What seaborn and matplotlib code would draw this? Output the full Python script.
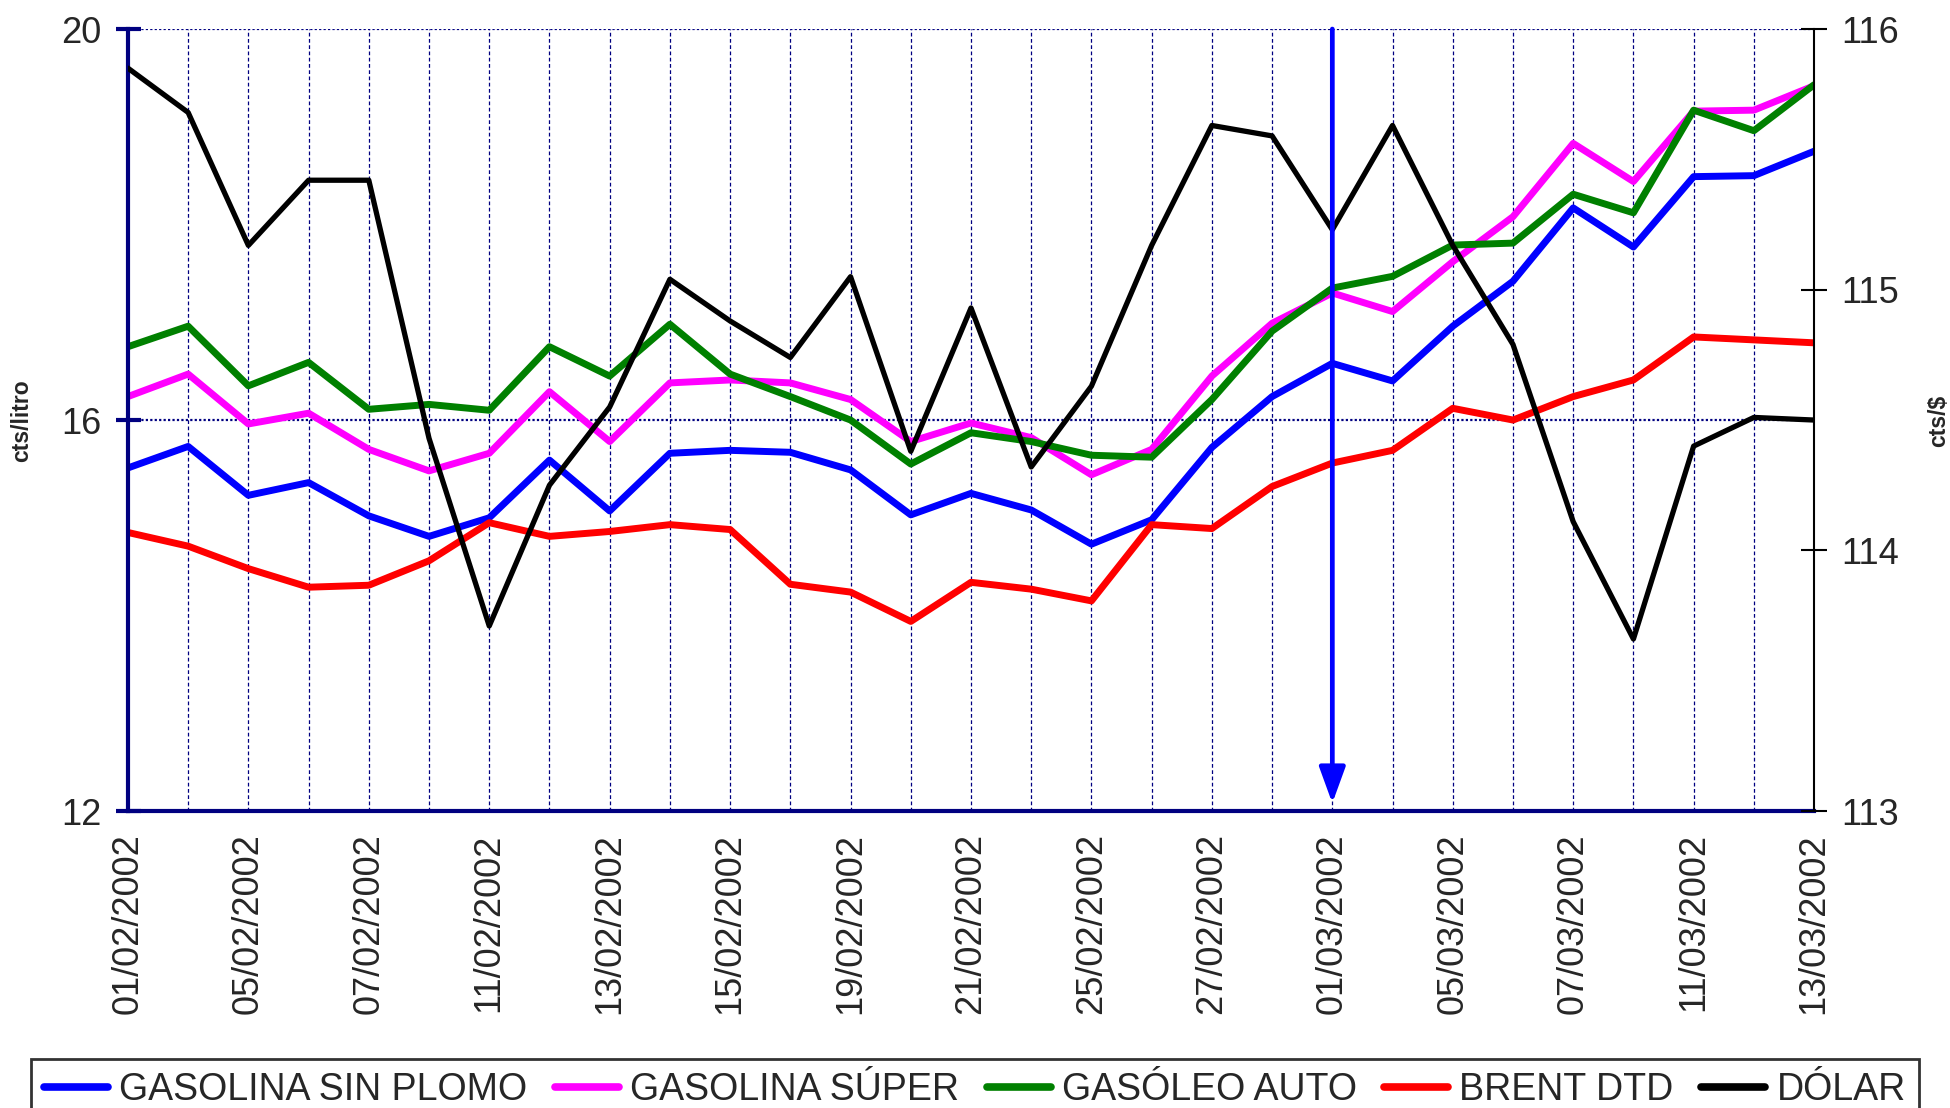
import pandas as pd
import matplotlib.pyplot as plt
import seaborn as sns
from matplotlib import font_manager

fechas = ['01/02/2002', '04/02/2002', '05/02/2002', '06/02/2002', '07/02/2002', '08/02/2002',
          '11/02/2002', '12/02/2002', '13/02/2002', '14/02/2002', '15/02/2002', '18/02/2002',
          '19/02/2002', '20/02/2002', '21/02/2002', '22/02/2002', '25/02/2002', '26/02/2002',
          '27/02/2002', '28/02/2002', '01/03/2002', '04/03/2002', '05/03/2002', '06/03/2002',
          '07/03/2002', '08/03/2002', '11/03/2002', '12/03/2002', '13/03/2002']

sin_plomo = [15.51, 15.73, 15.23, 15.36, 15.02, 14.81, 15.00, 15.59, 15.07, 15.66,
             15.69, 15.67, 15.49, 15.03, 15.25, 15.08, 14.73, 14.98, 15.72, 16.24,
             16.58, 16.40, 16.96, 17.42, 18.17, 17.77, 18.49, 18.50, 18.75]
super_ = [16.24, 16.47, 15.96, 16.07, 15.70, 15.48, 15.66, 16.29, 15.78, 16.38,
          16.41, 16.38, 16.21, 15.78, 15.97, 15.82, 15.44, 15.70, 16.45, 16.99,
          17.30, 17.11, 17.62, 18.08, 18.83, 18.44, 19.16, 19.17, 19.42]
gasoleo = [16.75, 16.96, 16.35, 16.59, 16.11, 16.16, 16.10, 16.75, 16.45, 16.98,
           16.47, 16.24, 16.00, 15.55, 15.87, 15.78, 15.64, 15.62, 16.21, 16.91,
           17.35, 17.47, 17.79, 17.81, 18.31, 18.12, 19.17, 18.96, 19.43]
brent = [14.85, 14.71, 14.48, 14.29, 14.31, 14.56, 14.95, 14.81, 14.86, 14.93,
         14.88, 14.32, 14.24, 13.94, 14.34, 14.27, 14.15, 14.93, 14.89, 15.32,
         15.56, 15.69, 16.12, 16.00, 16.24, 16.41, 16.85, 16.82, 16.79]
dolar = [115.85, 115.68, 115.17, 115.42, 115.42, 114.43, 113.71, 114.25, 114.55, 115.04,
         114.88, 114.74, 115.05, 114.38, 114.93, 114.32, 114.63, 115.17, 115.63, 115.59,
         115.23, 115.63, 115.17, 114.79, 114.11, 113.66, 114.40, 114.51, 114.50]

series = ['GASOLINA SIN PLOMO', 'GASOLINA SÚPER', 'GASÓLEO AUTO', 'BRENT DTD']
colores = ['#0000FF', '#FF00FF', '#008000', '#FF0000']
fecha_marca = '01/03/2002'

pos = list(range(len(fechas)))
df = pd.DataFrame({
    'pos': pos * 4,
    'valor': sin_plomo + super_ + gasoleo + brent,
    'serie': [s for s in series for _ in pos],
})
df_dolar = pd.DataFrame({'pos': pos, 'valor': dolar})

sns.set_style('white')
plt.rcParams['font.family'] = ['Liberation Sans', 'DejaVu Sans']

# la leyenda usa letra estrecha si esta instalada
nombres = {f.name for f in font_manager.fontManager.ttflist}
if 'Liberation Sans Narrow' in nombres:
    fuente_leyenda = dict(family=['Liberation Sans Narrow', 'Liberation Sans'], size=31)
else:
    fuente_leyenda = dict(family=['Liberation Sans', 'DejaVu Sans'], size=27)

navy = '#000080'
fig = plt.figure(figsize=(19.5, 11.08), dpi=100)
ax = fig.add_axes([0.0656, 0.268, 0.8647, 0.7058])

sns.lineplot(data=df, x='pos', y='valor', hue='serie', hue_order=series,
             palette=colores, linewidth=5, ax=ax, legend=False)

ax.set_xlim(0, len(fechas) - 1)
ax.set_ylim(12, 20)
ax.set_yticks([12, 16, 20])
ax.set_xticks(pos)
ax.set_xticklabels([f if i % 2 == 0 else '' for i, f in enumerate(fechas)], rotation=90)
ax.set_xlabel('')
ax.set_ylabel('')
ax.grid(axis='x', color=navy, linestyle=(0, (3, 2)), linewidth=0.9)
ax.grid(axis='y', color=navy, linestyle=(0, (1, 1)), linewidth=1.6)
ax.set_axisbelow(True)
for s in ['top', 'right']:
    ax.spines[s].set_visible(False)
for s in ['left', 'bottom']:
    ax.spines[s].set_color(navy)
    ax.spines[s].set_linewidth(3)
ax.tick_params(axis='y', direction='inout', length=18, width=3, color=navy,
               labelsize=26, pad=10)
ax.tick_params(axis='x', direction='inout', length=18, width=2.2, color=navy,
               labelsize=26, pad=7)

ax2 = ax.twinx()
sns.lineplot(data=df_dolar, x='pos', y='valor', color='black', linewidth=3.8, ax=ax2)
ax2.set_ylim(113, 116)
ax2.set_yticks([113, 114, 115, 116])
ax2.set_ylabel('')
for s in ['top', 'left', 'bottom']:
    ax2.spines[s].set_visible(False)
ax2.spines['right'].set_color('black')
ax2.spines['right'].set_linewidth(1.5)
ax2.tick_params(axis='y', direction='inout', length=19, width=1.5, color='black',
                labelsize=26, pad=10)

# flecha vertical en la fecha marcada
x_marca = fechas.index(fecha_marca)
ax2.annotate('', xy=(x_marca, 0.01), xytext=(x_marca, 1.0),
             xycoords=('data', 'axes fraction'), textcoords=('data', 'axes fraction'),
             arrowprops=dict(arrowstyle='-|>,head_length=1.1,head_width=0.4',
                             color='#0000FF', lw=3.4, mutation_scale=20,
                             shrinkA=0, shrinkB=0))

fig.text(0.011, 0.62, 'cts/litro', rotation=90, ha='center', va='center',
         fontsize=16.5, fontweight='bold')
fig.text(0.994, 0.62, 'cts/$', rotation=90, ha='center', va='center',
         fontsize=16.5, fontweight='bold')

handles = [plt.Line2D([], [], color=c, lw=5.5) for c in colores]
handles.append(plt.Line2D([], [], color='black', lw=5.5))
etiquetas = series + ['DÓLAR']
leg = fig.legend(handles, etiquetas, loc='upper left', ncol=5, mode='expand',
                 bbox_to_anchor=(0.016, 0.0, 0.968, 0.044), borderaxespad=0,
                 prop=fuente_leyenda, frameon=True, fancybox=False, handlelength=1.7,
                 handletextpad=0.3, columnspacing=0.4, borderpad=0.35)
leg.get_frame().set_edgecolor('black')
leg.get_frame().set_linewidth(2)

fig.savefig('out.png', dpi=100)
